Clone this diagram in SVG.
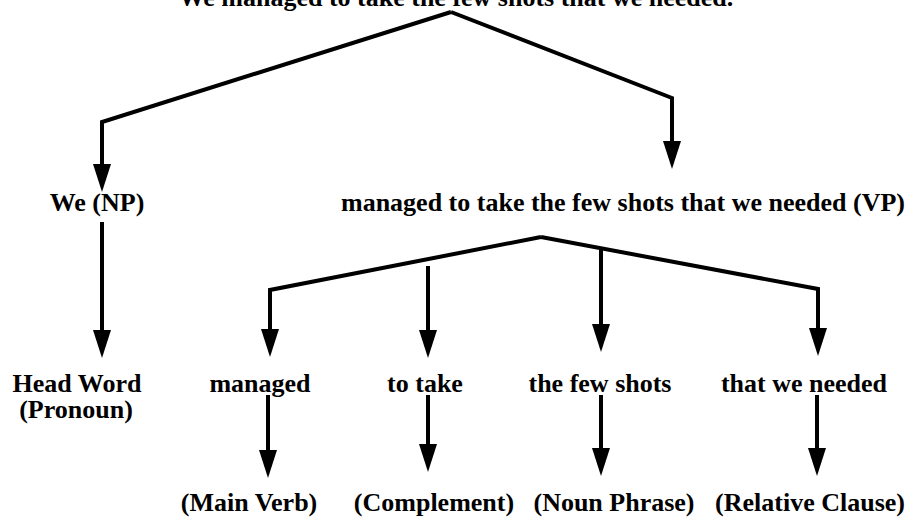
<svg xmlns="http://www.w3.org/2000/svg" width="914" height="517" viewBox="0 0 914 517">
  <style>
    .lbl { font-family: "Liberation Serif", "Times New Roman", serif; font-weight: bold; font-size: 26px; fill: #000; text-anchor: middle; }
    .edge { fill: none; stroke: #000; stroke-width: 4; stroke-linejoin: miter; marker-end: url(#arrow); }
    .bar { fill: none; stroke: #000; stroke-width: 4; stroke-linejoin: miter; }
  </style>
  <defs>
    <marker id="arrow" markerUnits="userSpaceOnUse" markerWidth="30" markerHeight="20" refX="2" refY="0" viewBox="0 -10 30 20" orient="auto" overflow="visible">
      <path d="M0,-9 L28,0 L0,9 Z" fill="#000"/>
    </marker>
  </defs>
  <rect width="914" height="517" fill="#fff"/>

  <!-- connectors -->
  <g id="connectors">
    <!-- sentence to NP / VP -->
    <polyline class="edge" points="451,12 102,122 102,166"/>
    <polyline class="edge" points="451,12 672,98 672,143"/>
    <!-- NP to head word -->
    <line class="edge" x1="102" y1="222" x2="102" y2="332"/>
    <!-- VP bracket -->
    <polyline class="edge" points="541,237 270,290 270,331"/>
    <polyline class="edge" points="541,237 818,289 818,330"/>
    <line class="edge" x1="428" y1="266" x2="428" y2="332"/>
    <line class="edge" x1="601" y1="248" x2="601" y2="326"/>
    <!-- constituents to their roles -->
    <line class="edge" x1="268" y1="395" x2="268" y2="452"/>
    <line class="edge" x1="428" y1="395" x2="428" y2="446"/>
    <line class="edge" x1="601" y1="395" x2="601" y2="450"/>
    <line class="edge" x1="817" y1="395" x2="817" y2="450"/>
  </g>

  <g id="sentence"><text class="lbl" x="456" y="6">We managed to take the few shots that we needed.</text></g>
  <g id="np"><text class="lbl" x="97" y="211">We (NP)</text></g>
  <g id="vp"><text class="lbl" x="623" y="211">managed to take the few shots that we needed (VP)</text></g>
  <g id="head-word"><text class="lbl" x="77" y="392">Head Word</text><text class="lbl" x="76" y="418">(Pronoun)</text></g>
  <g id="managed"><text class="lbl" x="260" y="392">managed</text></g>
  <g id="to-take"><text class="lbl" x="425" y="392">to take</text></g>
  <g id="few-shots"><text class="lbl" x="600" y="392">the few shots</text></g>
  <g id="that-we-needed"><text class="lbl" x="804" y="392">that we needed</text></g>
  <g id="main-verb"><text class="lbl" x="249" y="511">(Main Verb)</text></g>
  <g id="complement"><text class="lbl" x="434" y="511">(Complement)</text></g>
  <g id="noun-phrase"><text class="lbl" x="614" y="511">(Noun Phrase)</text></g>
  <g id="relative-clause"><text class="lbl" x="810" y="511">(Relative Clause)</text></g>
</svg>
